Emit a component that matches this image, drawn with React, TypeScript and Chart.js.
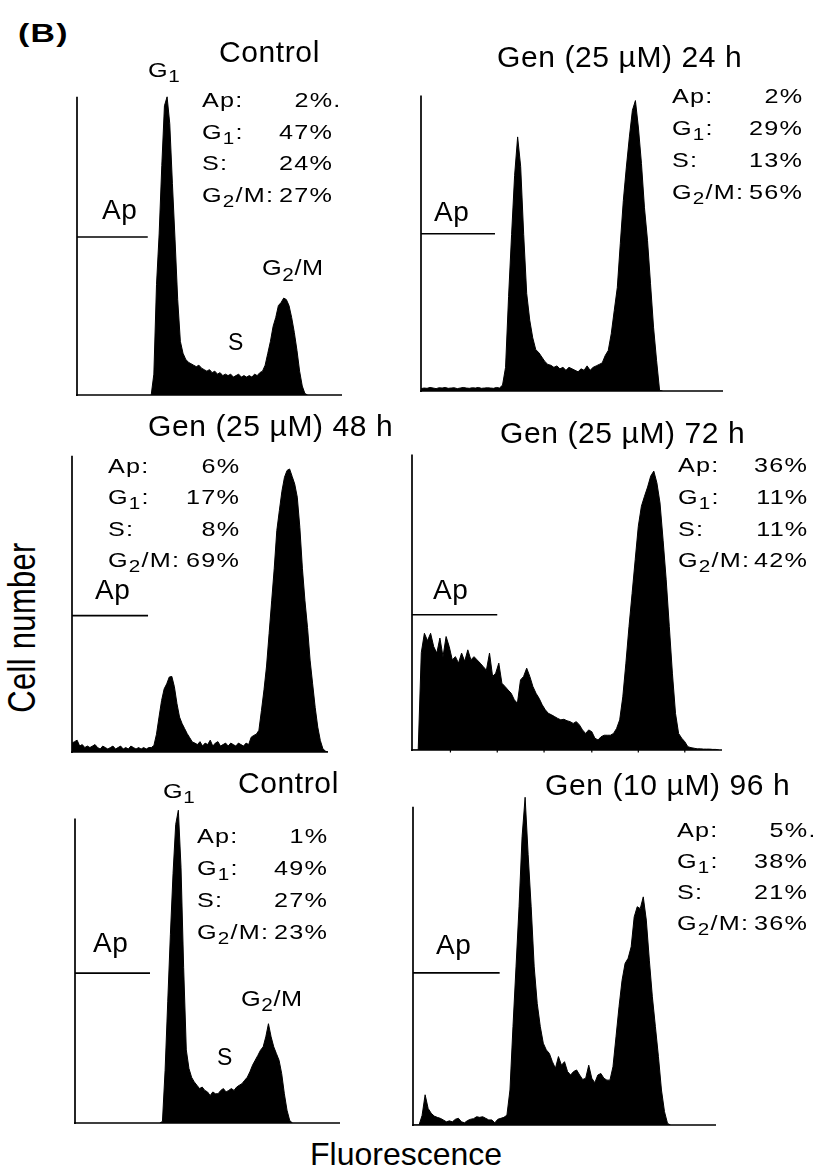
import React, { useEffect, useRef } from "react";
import { Chart, registerables } from "chart.js";

Chart.register(...registerables);

// ---------------- data ----------------
const panelTitles = [
  "Control",
  "Gen (25 µM) 24 h",
  "Gen (25 µM) 48 h",
  "Gen (25 µM) 72 h",
  "Control",
  "Gen (10 µM) 96 h",
];
const apPct = [2, 2, 6, 36, 1, 5];
const g1Pct = [47, 29, 17, 11, 49, 38];
const sPct = [24, 13, 8, 11, 27, 21];
const g2mPct = [27, 56, 69, 42, 23, 36];
const apSuffix = [".", "", "", "", "", "."];

// Ap gate marker: level (cell count, % of axis height) and upper channel
const gateLevel = [53, 53.2, 46, 45.8, 49.2, 47.8];
const gateEnd = [26.7, 24.5, 29.7, 27.5, 28.3, 28.6];

// small tick marks visible under the 72 h baseline (channels)
const ticks72h = [12.4, 27.5, 42.6, 58, 73, 88];
const panelTicks = [[], [], [], ticks72h, [], []];

// first fluorescence channel of each histogram array
const firstChannel = [28, 0, 0, 0, 32, 0];

const countsControlA = [
  0, 7, 37, 54, 77, 97, 100, 91, 71, 52, 32, 18, 14, 12, 11, 10.5, 10, 9.5, 10, 9,
  8.5, 8, 8.5, 7.5, 8, 7, 7.5, 6.5, 7, 6.5, 7, 6, 6.5, 7, 6, 6.5, 6, 6.5, 6, 7,
  6.5, 7.5, 8, 10, 14, 18, 23, 26, 30, 31, 32.5, 32, 30, 26, 21, 15, 8, 3, 0.5, 0,
];
const countsGen25h24 = [
  0.8, 1, 0.9, 1.2, 1, 0.8, 1.1, 1, 1.2, 0.9, 1, 1.1, 0.8, 1, 1.2, 1, 0.9, 1.1, 1, 1.2,
  0.9, 1, 1.1, 1, 0.9, 1.2, 1, 2, 8, 32, 53, 73, 86, 76, 53, 33, 24, 18, 14, 13,
  11.5, 10, 9, 8.7, 8, 8.5, 7.5, 8, 7, 8, 7.5, 7, 6.5, 7.5, 7, 8.5, 7, 8, 8.5, 9,
  9.5, 12, 13.7, 19.4, 27.3, 35, 50, 64.5, 75.8, 86, 95, 98.3, 89, 77, 62, 51, 36.3, 21.6, 10.4, 0.2,
  0,
];
const countsGen25h48 = [
  3, 3.5, 4, 2, 2.5, 1.5, 2, 1.5, 2, 2.5, 1.5, 1, 2, 1.5, 1, 1.5, 2, 1, 1.5, 2,
  1, 1.5, 1, 2, 1.5, 1, 1.5, 1, 1.5, 1, 1.5, 1.5, 2.2, 6, 11.8, 17.4, 21.3, 23, 25.3, 25.5,
  22, 16.3, 11.8, 9.6, 7.9, 6.2, 4.8, 3.4, 3, 2.5, 3.5, 2, 3, 2.5, 4, 2, 3, 3.5, 2, 2.5,
  3, 2, 3, 2.5, 2, 3, 2.5, 2, 3, 2.5, 5, 5.6, 6, 7.3, 14, 21, 29, 40, 51, 62,
  74.7, 81.5, 88, 92.7, 95, 95.5, 93, 90.4, 86, 75.8, 62, 51, 42, 31, 23, 15, 8.4, 3.9, 1.1, 0.3,
  0,
];
const countsGen25h72 = [
  0, 0, 0, 33, 39.5, 37, 39.5, 35, 32.8, 37.9, 31.6, 38.4, 35, 30.5, 31.6, 29.4, 32.8, 30, 33.9, 30.5,
  31.6, 30.5, 29.4, 28.2, 27, 32.8, 24.9, 26, 29.4, 22.6, 21.5, 20.3, 19.2, 17, 15.8, 23.7, 24.9, 27.7, 24.9, 21.5,
  19.2, 17.5, 15.3, 13.6, 12.4, 11.9, 11.3, 10.7, 10.2, 10.4, 9.9, 9.6, 9, 9.6, 8.5, 6.8, 5.6, 6.8, 6.2, 4,
  3.4, 4.5, 5, 5, 5, 5.6, 7.3, 10.2, 18, 29.4, 41.8, 53, 64.4, 75.7, 82.5, 85.9, 89, 92.7, 94.4, 90.4,
  83.6, 71, 57.6, 41.8, 26, 12.4, 5.6, 4, 2.8, 1.1, 0.8, 0.6, 0.4, 0.4, 0.3, 0.3, 0.3, 0.2, 0.2, 0,
];
const countsControlB = [
  0, 0.5, 17.3, 40, 62, 82, 98, 102.7, 84, 51, 24, 17.9, 15, 13.5, 12.4, 11.3, 11.8, 10.7, 10.2, 9,
  10.2, 9.6, 9.6, 10.7, 11.3, 10.2, 10.7, 11.3, 10.7, 11.8, 12.4, 12.9, 14, 15, 16.8, 19, 20.6, 22.2, 23.9, 25,
  28.3, 32.6, 28.3, 25, 22.8, 20.6, 16.2, 9.6, 4.2, 0.9, 0,
];
const countsGen10h96 = [
  0, 0, 0, 3, 9.5, 5.2, 3.7, 2.8, 2.4, 2.1, 1.6, 1, 1.3, 1, 1.8, 2.1, 1, 0.7, 1.4, 1.8,
  2, 2.6, 2.4, 2.6, 2.1, 1.6, 1.6, 0.7, 1.8, 2.1, 2.4, 3.1, 11, 31, 49.7, 68.6, 90.6, 103, 85, 68.6,
  49.7, 38.2, 31, 25.7, 23.6, 22.5, 19.9, 17.8, 21.5, 18.8, 19.9, 16.8, 15.7, 16.8, 17.3, 15.7, 14.3, 14.7, 18.8, 14.7,
  13.3, 15.7, 16.2, 14.7, 14.1, 14.1, 18.3, 27.7, 37.2, 45.5, 50.8, 52.4, 56, 65.4, 68.6, 68, 71.7, 64.4, 51.8, 40.3,
  30.9, 21.5, 11, 4.2, 0.5, 0,
];
const histograms = [
  countsControlA,
  countsGen25h24,
  countsGen25h48,
  countsGen25h72,
  countsControlB,
  countsGen10h96,
];

const channelMax = 100;
const axisTopCount = 100;
const countMax = 110;

// ---------------- layout / style ----------------
const PAGE_W = 813;
const PAGE_H = 1167;
const FONT = '"Liberation Sans", Arial, Helvetica, sans-serif';
const PAD = 3;

type Pt = [number, number];
interface PanelLayout {
  box: [number, number, number, number];
  title: Pt;
  stats: [number, number, number, number];
  ap: Pt;
  peaks?: { g1: Pt; s: Pt; g2: Pt };
}

const layout: PanelLayout[] = [
  { box: [77.3, 96.7, 341.7, 395], title: [219, 62], stats: [202, 332, 107, 31.6], ap: [102, 220],
    peaks: { g1: [148, 77], s: [228, 350], g2: [262, 276] } },
  { box: [421, 95, 723.3, 390.7], title: [497, 67], stats: [672, 802, 103, 32], ap: [434, 222] },
  { box: [71.7, 455, 328.3, 751.7], title: [148, 436], stats: [108, 239, 472.7, 31.3], ap: [95, 600] },
  { box: [411.7, 455, 721.7, 750], title: [500, 443], stats: [678, 807, 472, 31.7], ap: [433, 600] },
  { box: [75, 818.3, 340, 1122.7], title: [238, 793], stats: [197, 327, 843, 31.8], ap: [93, 953],
    peaks: { g1: [163, 797.7], s: [217, 1065], g2: [241, 1006.7] } },
  { box: [413.3, 806.7, 716, 1125], title: [545, 795], stats: [677, 807, 836.7, 31.1], ap: [436, 955] },
];

function makeAxesPlugin(tickChannels: number[]) {
  return {
    id: "flowAxes",
    afterDraw(chart: any) {
      const { ctx, scales } = chart;
      const x = scales.x;
      const y = scales.y;
      const x0 = x.getPixelForValue(0);
      const x1 = x.getPixelForValue(channelMax);
      const y0 = y.getPixelForValue(0);
      const yTop = y.getPixelForValue(axisTopCount);
      ctx.save();
      ctx.strokeStyle = "#000";
      ctx.lineWidth = 1.7;
      ctx.beginPath();
      ctx.moveTo(x0, yTop);
      ctx.lineTo(x0, y0 + 1);
      ctx.moveTo(x0 - 1, y0);
      ctx.lineTo(x1, y0);
      ctx.stroke();
      if (tickChannels.length) {
        ctx.lineWidth = 1.2;
        ctx.beginPath();
        for (const c of tickChannels) {
          const px = x.getPixelForValue(c);
          ctx.moveTo(px, y0);
          ctx.lineTo(px, y0 + 2.5);
        }
        ctx.stroke();
      }
      ctx.restore();
    },
  };
}

function Txt(props: {
  x: number; y: number; size: number; ls?: number; weight?: number; sx?: number;
  align?: "left" | "right"; children: React.ReactNode;
}) {
  const { x, y, size, ls = 0, weight = 400, sx = 1, align = "left", children } = props;
  const style: React.CSSProperties = {
    position: "absolute",
    top: y - 0.8465 * size,
    fontSize: size,
    lineHeight: 1,
    letterSpacing: ls,
    fontWeight: weight,
    whiteSpace: "nowrap",
    fontFamily: FONT,
    color: "#000",
  };
  if (sx !== 1) {
    style.transform = `scaleX(${sx})`;
    style.transformOrigin = align === "right" ? "right center" : "left center";
  }
  if (align === "right") style.right = PAGE_W - x - ls * sx;
  else style.left = x;
  return <div style={style}>{children}</div>;
}

const Sub = ({ children }: { children: React.ReactNode }) => (
  <span style={{ fontSize: "0.82em", position: "relative", top: "0.3em" }}>{children}</span>
);

function Panel({ idx }: { idx: number }) {
  const ref = useRef<HTMLCanvasElement>(null);
  const p = layout[idx];
  const [l, t, r, b] = p.box;
  const L = Math.round(l);
  const R = Math.round(r);
  const B = Math.round(b);
  const areaH = Math.round(((b - t) * countMax) / axisTopCount);
  const top = B - areaH;
  const cw = R - L + 2 * PAD;
  const chH = areaH + PAD;

  useEffect(() => {
    if (!ref.current) return;
    const counts = histograms[idx];
    const pts = counts.map((v, i) => ({ x: firstChannel[idx] + i, y: v }));
    const gate = [
      { x: 0, y: gateLevel[idx] },
      { x: gateEnd[idx], y: gateLevel[idx] },
    ];
    const chart = new Chart(ref.current, {
      type: "line",
      data: {
        datasets: [
          {
            label: "Cell number",
            data: pts,
            fill: "origin",
            backgroundColor: "#000",
            borderColor: "#000",
            borderWidth: 1,
            pointRadius: 0,
            tension: 0,
          },
          {
            label: "Ap gate",
            data: gate,
            fill: false,
            borderColor: "#000",
            borderWidth: 1.6,
            pointRadius: 0,
            tension: 0,
          },
        ],
      },
      options: {
        animation: false,
        responsive: false,
        maintainAspectRatio: false,
        events: [],
        layout: { padding: { left: PAD, right: PAD, top: 0, bottom: PAD } },
        plugins: { legend: { display: false }, tooltip: { enabled: false }, title: { display: false } },
        scales: {
          x: { type: "linear", min: 0, max: channelMax, display: false },
          y: { type: "linear", min: 0, max: countMax, display: false },
        },
      },
      plugins: [makeAxesPlugin(panelTicks[idx])],
    } as any);
    return () => chart.destroy();
  }, [idx]);

  const [sxL, sr, sy, sdy] = p.stats;
  const statLabels = [
    <>Ap:</>,
    <>G<Sub>1</Sub>:</>,
    <>S:</>,
    <>G<Sub>2</Sub>/M:</>,
  ];
  const statValues = [apPct[idx], g1Pct[idx], sPct[idx], g2mPct[idx]];
  const SS = 21;
  const SLS = 1;
  const SSX = 1.2;

  return (
    <>
      <canvas
        ref={ref}
        width={cw}
        height={chH}
        style={{ position: "absolute", left: L - PAD, top, width: cw, height: chH, display: "block" }}
      />
      <Txt x={p.title[0]} y={p.title[1]} size={30} ls={0.6}>{panelTitles[idx]}</Txt>
      {statLabels.map((lab, k) => (
        <Txt key={"l" + k} x={sxL} y={sy + k * sdy} size={SS} ls={SLS} sx={SSX}>{lab}</Txt>
      ))}
      {statValues.map((v, k) => (
        <Txt key={"v" + k} x={sr} y={sy + k * sdy} size={SS} ls={SLS} sx={SSX} align="right">
          {v}%
          {k === 0 && apSuffix[idx] ? (
            <span style={{ position: "absolute", left: "100%", top: 0 }}>{apSuffix[idx]}</span>
          ) : null}
        </Txt>
      ))}
      <Txt x={p.ap[0]} y={p.ap[1]} size={28} ls={0.5}>Ap</Txt>
      {p.peaks ? (
        <>
          <Txt x={p.peaks.g1[0]} y={p.peaks.g1[1]} size={21} ls={0.5} sx={1.2}>G<Sub>1</Sub></Txt>
          <Txt x={p.peaks.s[0]} y={p.peaks.s[1]} size={23}>S</Txt>
          <Txt x={p.peaks.g2[0]} y={p.peaks.g2[1]} size={22} ls={0.5} sx={1.15}>G<Sub>2</Sub>/M</Txt>
        </>
      ) : null}
    </>
  );
}

export default function App() {
  return (
    <div
      style={{
        position: "absolute",
        left: 0,
        top: 0,
        width: PAGE_W,
        height: PAGE_H,
        background: "#fff",
        overflow: "hidden",
        fontFamily: FONT,
      }}
    >
      <Txt x={18} y={42} size={26} weight={700} ls={1} sx={1.3}>(B)</Txt>
      {layout.map((_, i) => (
        <Panel key={i} idx={i} />
      ))}
      <Txt x={310} y={1165} size={32}>Fluorescence</Txt>
      <div
        style={{
          position: "absolute",
          left: 21.6 - 100,
          top: 627.5 - 15.5,
          width: 200,
          fontSize: 31,
          lineHeight: 1,
          letterSpacing: 0.3,
          textAlign: "center",
          whiteSpace: "nowrap",
          fontFamily: FONT,
          color: "#000",
          transform: "rotate(-90deg) scaleY(1.25)",
          transformOrigin: "center",
        }}
      >
        Cell number
      </div>
    </div>
  );
}
